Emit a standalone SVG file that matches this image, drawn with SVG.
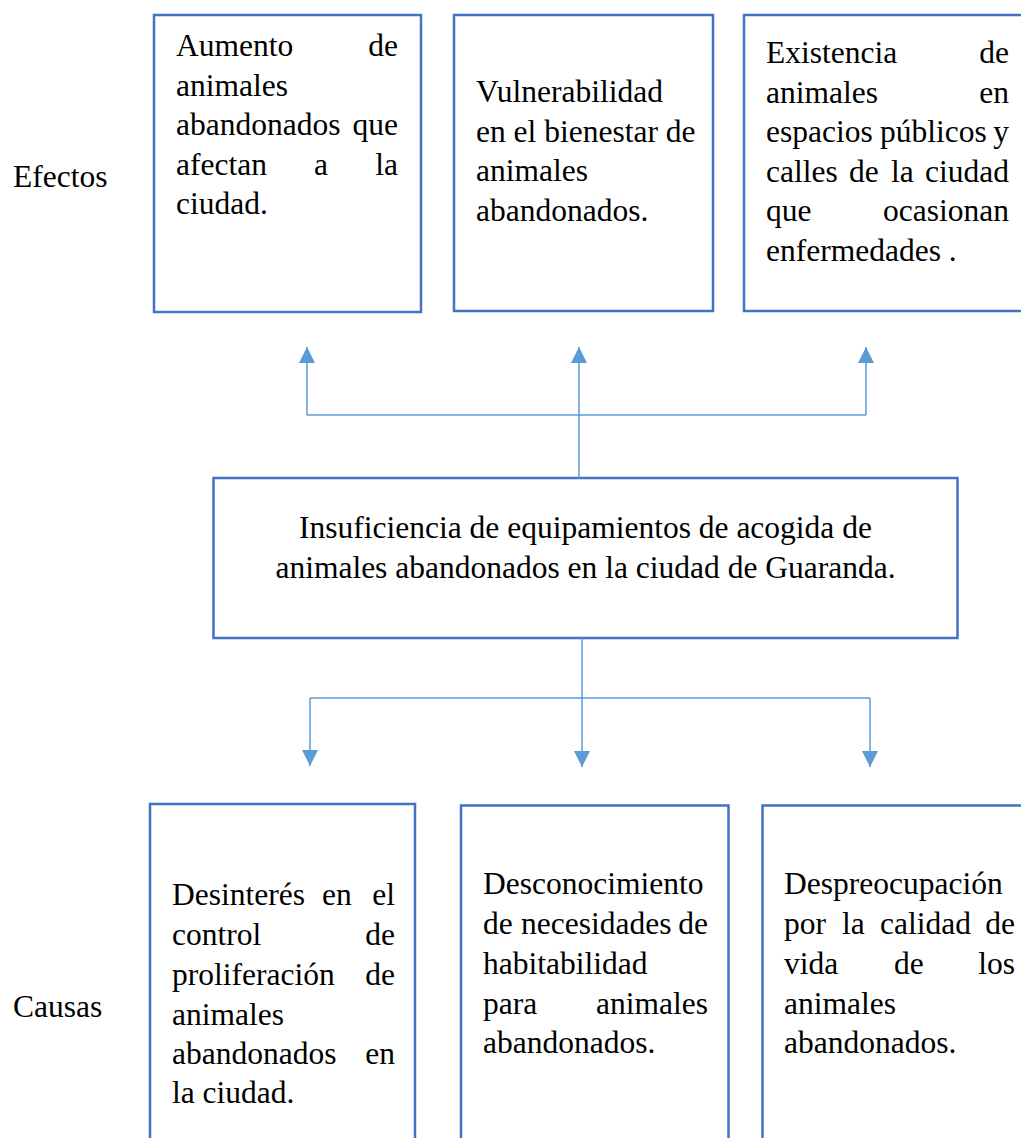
<svg xmlns="http://www.w3.org/2000/svg" width="1021" height="1138" viewBox="0 0 1021 1138">
<style>
.box{fill:#ffffff;stroke:#4472C4;stroke-width:2.5}
.t{font-family:"Liberation Serif","Times New Roman",serif;font-size:31.5px;fill:#000000}
.e{text-anchor:end}
.c{text-anchor:middle}
.con{fill:none;stroke:#5B9BD5;stroke-width:1.5}
</style>
<defs>
<marker id="arr" markerUnits="userSpaceOnUse" markerWidth="16" markerHeight="16" refX="16" refY="8" orient="auto">
<path d="M0,0 L16,8 L0,16 Z" fill="#5B9BD5"/>
</marker>
</defs>
<rect width="1021" height="1138" fill="#ffffff"/>

<g id="label-efectos"><text class="t" x="13" y="187">Efectos</text></g>
<g id="label-causas"><text class="t" x="13" y="1017">Causas</text></g>

<g id="efecto1">
<rect class="box" x="154" y="15" width="267" height="297"/>
<text class="t" x="176" y="56">Aumento</text><text class="t e" x="398" y="56">de</text>
<text class="t" x="176" y="95.5">animales</text>
<text class="t" x="176" y="135">abandonados</text><text class="t e" x="398" y="135">que</text>
<text class="t" x="176" y="174.5">afectan</text><text class="t" x="314" y="174.5">a</text><text class="t e" x="398" y="174.5">la</text>
<text class="t" x="176" y="214">ciudad.</text>
</g>

<g id="efecto2">
<rect class="box" x="454" y="15" width="259" height="296"/>
<text class="t" x="476" y="102">Vulnerabilidad</text>
<text class="t" x="476" y="141.5">en el bienestar de</text>
<text class="t" x="476" y="181">animales</text>
<text class="t" x="476" y="220.5">abandonados.</text>
</g>

<g id="efecto3">
<rect class="box" x="744" y="15" width="290" height="296"/>
<text class="t" x="766" y="63">Existencia</text><text class="t e" x="1009" y="63">de</text>
<text class="t" x="766" y="102.5">animales</text><text class="t e" x="1009" y="102.5">en</text>
<text class="t" x="766" y="142">espacios</text><text class="t" x="880" y="142">públicos</text><text class="t e" x="1009" y="142">y</text>
<text class="t" x="766" y="181.5">calles</text><text class="t" x="849" y="181.5">de</text><text class="t" x="891" y="181.5">la</text><text class="t e" x="1009" y="181.5">ciudad</text>
<text class="t" x="766" y="221">que</text><text class="t e" x="1009" y="221">ocasionan</text>
<text class="t" x="766" y="260.5">enfermedades .</text>
</g>

<g id="problema">
<rect class="box" x="213.5" y="478" width="744" height="160"/>
<text class="t c" x="585.5" y="538">Insuficiencia de equipamientos de acogida de</text>
<text class="t c" x="585.5" y="578">animales abandonados en la ciudad de Guaranda.</text>
</g>

<g id="causa1">
<rect class="box" x="150" y="804" width="265" height="350"/>
<text class="t" x="172" y="905">Desinterés</text><text class="t" x="322" y="905">en</text><text class="t e" x="395" y="905">el</text>
<text class="t" x="172" y="945">control</text><text class="t e" x="395" y="945">de</text>
<text class="t" x="172" y="985">proliferación</text><text class="t e" x="395" y="985">de</text>
<text class="t" x="172" y="1025">animales</text>
<text class="t" x="172" y="1064">abandonados</text><text class="t e" x="395" y="1064">en</text>
<text class="t" x="172" y="1103">la ciudad.</text>
</g>

<g id="causa2">
<rect class="box" x="461" y="805.5" width="267.5" height="350"/>
<text class="t" x="483" y="894">Desconocimiento</text>
<text class="t" x="483" y="934">de</text><text class="t" x="521" y="934">necesidades</text><text class="t e" x="708" y="934">de</text>
<text class="t" x="483" y="974">habitabilidad</text>
<text class="t" x="483" y="1014">para</text><text class="t e" x="708" y="1014">animales</text>
<text class="t" x="483" y="1053">abandonados.</text>
</g>

<g id="causa3">
<rect class="box" x="762.5" y="805.5" width="280" height="350"/>
<text class="t" x="784" y="894">Despreocupación</text>
<text class="t" x="784" y="934">por</text><text class="t" x="842" y="934">la</text><text class="t" x="880" y="934">calidad</text><text class="t e" x="1015" y="934">de</text>
<text class="t" x="784" y="974">vida</text><text class="t" x="894" y="974">de</text><text class="t e" x="1015" y="974">los</text>
<text class="t" x="784" y="1014">animales</text>
<text class="t" x="784" y="1053">abandonados.</text>
</g>

<g id="connectors">
<path class="con" d="M307,415 H866"/>
<path class="con" d="M307,415 V347" marker-end="url(#arr)"/>
<path class="con" d="M579,478 V347" marker-end="url(#arr)"/>
<path class="con" d="M866,415 V347" marker-end="url(#arr)"/>
<path class="con" d="M310,698 H870"/>
<path class="con" d="M582,638 V767" marker-end="url(#arr)"/>
<path class="con" d="M310,698 V766" marker-end="url(#arr)"/>
<path class="con" d="M870,698 V767" marker-end="url(#arr)"/>
</g>
</svg>
